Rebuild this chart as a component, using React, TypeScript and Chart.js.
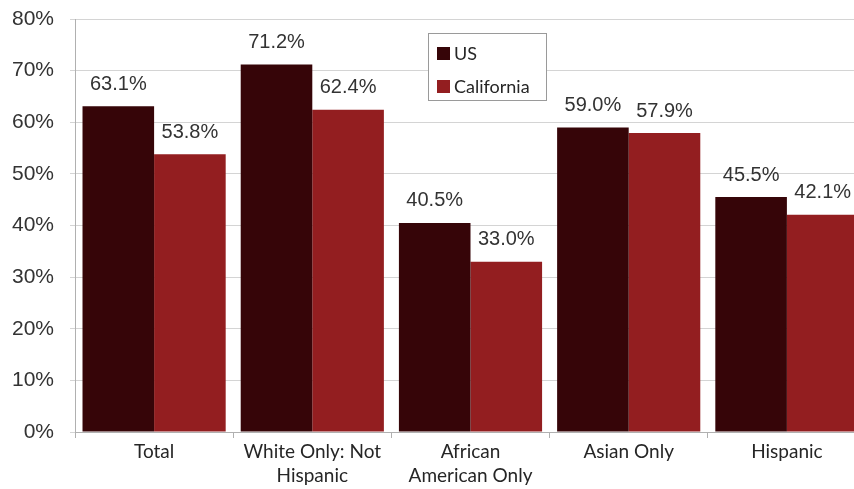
import React, { useEffect, useRef } from "react";
import { Chart, registerables } from "chart.js";

Chart.register(...registerables);

const categories: (string | string[])[] = [
  "Total",
  ["White Only: Not", "Hispanic"],
  ["African", "American Only"],
  "Asian Only",
  "Hispanic",
];
const usValues = [63.1, 71.2, 40.5, 59.0, 45.5];
const caValues = [53.8, 62.4, 33.0, 57.9, 42.1];
const yTicks = [0, 10, 20, 30, 40, 50, 60, 70, 80];
const seriesNames = ["US", "California"];
const colors = ["#360508", "#931e20"];

const labelPlugin = {
  id: "valueLabels",
  afterDatasetsDraw(chart: any) {
    const ctx = chart.ctx;
    ctx.save();
    ctx.font = "20px 'Liberation Sans', Arial, sans-serif";
    ctx.fillStyle = "#333333";
    ctx.textAlign = "center";
    ctx.textBaseline = "middle";
    chart.data.datasets.forEach((ds: any, i: number) => {
      const meta = chart.getDatasetMeta(i);
      meta.data.forEach((bar: any, j: number) => {
        ctx.fillText(ds.data[j].toFixed(1) + "%", bar.x, bar.y - 22);
      });
    });
    // legend
    const lx = 428, ly = 33, lw = 118, lh = 67;
    ctx.fillStyle = "#ffffff";
    ctx.fillRect(lx, ly, lw, lh);
    ctx.strokeStyle = "#9a9a9a";
    ctx.lineWidth = 1;
    ctx.strokeRect(lx + 0.5, ly + 0.5, lw, lh);
    ctx.font = "18px Lato, 'Open Sans', sans-serif";
    ctx.textAlign = "left";
    seriesNames.forEach((n, k) => {
      const cy = ly + 20 + k * 33;
      ctx.fillStyle = colors[k];
      ctx.fillRect(lx + 9, cy - 6, 13, 13);
      ctx.fillStyle = "#262626";
      ctx.fillText(n, lx + 26, cy + 1);
    });
    ctx.restore();
  },
};

export default function App() {
  const ref = useRef<HTMLCanvasElement | null>(null);
  useEffect(() => {
    document.body.style.overflow = "hidden";
    const chart = new Chart(ref.current!, {
      type: "bar",
      data: {
        labels: categories,
        datasets: [
          { label: seriesNames[0], data: usValues, backgroundColor: colors[0], categoryPercentage: 0.905, barPercentage: 1 },
          { label: seriesNames[1], data: caValues, backgroundColor: colors[1], categoryPercentage: 0.905, barPercentage: 1 },
        ],
      },
      options: {
        animation: false,
        responsive: false,
        layout: { padding: { top: 19, left: 0, right: 0, bottom: 0 } },
        plugins: { legend: { display: false }, tooltip: { enabled: false } },
        scales: {
          x: {
            grid: { display: true, drawOnChartArea: false, offset: true, tickLength: 6, color: "#b0b0b0" },
            border: { color: "#b0b0b0" },
            ticks: {
              color: "#262626",
              font: { family: "Lato, 'Open Sans', sans-serif", size: 19, lineHeight: 1.25 },
              padding: 2,
              maxRotation: 0,
              autoSkip: false,
            },
            afterFit(scale: any) { scale.height = 57; },
          },
          y: {
            min: 0,
            max: 80,
            afterBuildTicks(scale: any) { scale.ticks = yTicks.map((v) => ({ value: v })); },
            grid: { color: "#d4d4d4", tickLength: 5 },
            border: { color: "#b0b0b0" },
            ticks: {
              color: "#333333",
              font: { family: "'Liberation Sans', Arial, sans-serif", size: 21, lineHeight: 1 },
              padding: 16,
              callback: (v: any) => v + "%",
            },
            afterFit(scale: any) {
              scale.width = 75;
              scale.paddingTop = 0;
              scale.paddingBottom = 0;
            },
          },
        },
      },
      plugins: [labelPlugin],
    });
    return () => chart.destroy();
  }, []);
  return (
    <div style={{ position: "fixed", left: 0, top: 0, width: 854, height: 489, overflow: "hidden", background: "#fff" }}>
      <canvas ref={ref} width={866} height={489} style={{ display: "block", width: 866, height: 489 }} />
    </div>
  );
}
